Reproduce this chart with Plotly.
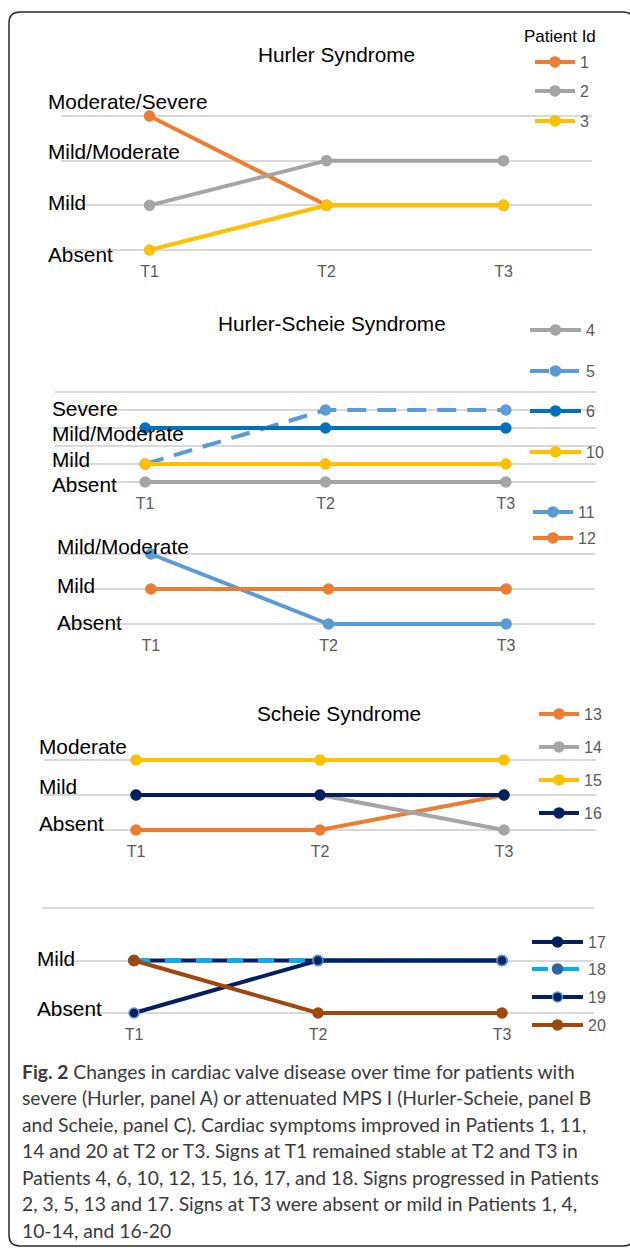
import plotly.graph_objects as go

W, H = 630, 1248

# ---------------- data ----------------
time_points = ["T1", "T2", "T3"]

# Panel A: Hurler syndrome (level index on its own scale)
hurler_levels = ["Absent", "Mild", "Mild/Moderate", "Moderate/Severe"]
hurler_ids = ["1", "2", "3"]
hurler_values = [[3, 1, 1], [1, 2, 2], [0, 1, 1]]

# Panel B (upper): Hurler-Scheie
hs1_levels = ["Absent", "Mild", "", "Mild/Moderate", "Severe", ""]
hs1_ids = ["4", "5", "6", "10"]
hs1_values = [[0, 0, 0], [1, 4, 4], [3, 3, 3], [1, 1, 1]]

# Panel B (lower): Hurler-Scheie
hs2_levels = ["Absent", "Mild", "Mild/Moderate"]
hs2_ids = ["11", "12"]
hs2_values = [[2, 0, 0], [1, 1, 1]]

# Panel C (upper): Scheie
sc1_levels = ["Absent", "Mild", "Moderate"]
sc1_ids = ["13", "14", "15", "16"]
sc1_values = [[0, 0, 1], [1, 1, 0], [2, 2, 2], [1, 1, 1]]

# Panel C (lower): Scheie
sc2_levels = ["Absent", "Mild", ""]
sc2_ids = ["17", "18", "19", "20"]
sc2_values = [[1, 1, 1], [1, 1, 1], [0, 1, 1], [1, 0, 0]]

panel_titles = ["Hurler Syndrome", "Hurler-Scheie Syndrome", "", "Scheie Syndrome", ""]
legend_title = "Patient Id"

caption_lines = [
    "<b>Fig. 2</b> Changes in cardiac valve disease over time for patients with",
    "severe (Hurler, panel A) or attenuated MPS I (Hurler-Scheie, panel B",
    "and Scheie, panel C). Cardiac symptoms improved in Patients 1, 11,",
    "14 and 20 at T2 or T3. Signs at T1 remained stable at T2 and T3 in",
    "Patients 4, 6, 10, 12, 15, 16, 17, and 18. Signs progressed in Patients",
    "2, 3, 5, 13 and 17. Signs at T3 were absent or mild in Patients 1, 4,",
    "10-14, and 16-20",
]

# ---------------- styling / layout ----------------
ORANGE, GREY, GOLD = "#ED7D31", "#A5A5A5", "#FFC000"
LBLUE, DBLUE, NAVY, BROWN, CYAN = "#5B9BD5", "#0070C0", "#002060", "#9E480E", "#00B0F0"
FONT = "Liberation Sans, Arial, sans-serif"

def px_x(x):
    return x / W

def px_y(y):
    return 1 - y / H

panels = [
    dict(xl=61, xr=592, yt=116, yb=250, levels=hurler_levels, ids=hurler_ids, vals=hurler_values,
         styles=[dict(c=ORANGE), dict(c=GREY), dict(c=GOLD)],
         label_x=46, label_shift=[-4, 3, 9, 15],
         legend_y=[62, 91, 121], legend_x=535, legend_w=40),
    dict(xl=55, xr=596, yt=392, yb=482, levels=hs1_levels, ids=hs1_ids, vals=hs1_values,
         styles=[dict(c=GREY), dict(c=LBLUE, dash="19px,11px"), dict(c=DBLUE), dict(c=GOLD)],
         label_x=50, label_shift=[-2, 5, 0, -5, 2, 0],
         legend_y=[330, 371, 411, 452], legend_x=530, legend_w=51),
    dict(xl=62, xr=595, yt=554, yb=624, levels=hs2_levels, ids=hs2_ids, vals=hs2_values,
         styles=[dict(c=LBLUE), dict(c=ORANGE)],
         label_x=55, label_shift=[2, 4, 8],
         legend_y=[512, 538], legend_x=533, legend_w=40),
    dict(xl=44, xr=596, yt=760, yb=830, levels=sc1_levels, ids=sc1_ids, vals=sc1_values,
         styles=[dict(c=ORANGE), dict(c=GREY), dict(c=GOLD), dict(c=NAVY)],
         label_x=37, label_shift=[7, 9, 14],
         legend_y=[714, 747, 780, 813], legend_x=539, legend_w=40),
    dict(xl=42, xr=594, yt=908, yb=1013, levels=sc2_levels, ids=sc2_ids, vals=sc2_values,
         styles=[dict(c=NAVY), dict(c=CYAN, dash="16px,15px", mc="#2A659E"),
                 dict(c=NAVY, mline=LBLUE), dict(c=BROWN)],
         label_x=35, label_shift=[5, 2, 0],
         legend_y=[942, 969, 997, 1025], legend_x=532, legend_w=51),
]
title_pos = [(336, 55), (332, 324), None, (339, 713), None]
PAD = 6  # px of extra room above/below the outer gridlines so lines are not clipped

fig = go.Figure()
annotations = []
layout_extra = {}
legend_count = 0

for p_i, p in enumerate(panels):
    n = p_i + 1
    xa = "x" if n == 1 else f"x{n}"
    ya = "y" if n == 1 else f"y{n}"
    xkey = "xaxis" if n == 1 else f"xaxis{n}"
    ykey = "yaxis" if n == 1 else f"yaxis{n}"
    ymax = len(p["levels"]) - 1
    unit = (p["yb"] - p["yt"]) / ymax
    pad_v = PAD / unit
    layout_extra[xkey] = dict(
        domain=[px_x(p["xl"]), px_x(p["xr"])], anchor=ya,
        range=[-0.5, 2.5], tickmode="array", tickvals=[0, 1, 2], ticktext=time_points,
        showgrid=False, zeroline=False, showline=False,
        ticks="outside", ticklen=1, tickcolor="rgba(0,0,0,0)",
        tickfont=dict(family=FONT, size=16, color="#595959"),
        fixedrange=True,
    )
    layout_extra[ykey] = dict(
        domain=[px_y(p["yb"] + PAD), px_y(p["yt"] - PAD)], anchor=xa,
        range=[-pad_v, ymax + pad_v], dtick=1, tick0=0,
        showgrid=True, gridcolor="#D9D9D9", gridwidth=1.5,
        zeroline=False, showline=False, showticklabels=False, ticks="",
        fixedrange=True,
    )
    for t_i, (pid, vals) in enumerate(zip(p["ids"], p["vals"])):
        st = p["styles"][t_i]
        legend_count += 1
        lkey = "legend" if legend_count == 1 else f"legend{legend_count}"
        fig.add_trace(go.Scatter(
            x=[0, 1, 2], y=vals, name=pid, mode="lines+markers",
            xaxis=xa, yaxis=ya, cliponaxis=False,
            line=dict(color=st["c"], width=4, dash=st.get("dash", "solid")),
            marker=dict(size=10, color=st.get("mc", st["c"]),
                        line=dict(color=st.get("mline", st.get("mc", st["c"])), width=1.5)),
            legend=lkey, showlegend=True,
        ))
        layout_extra[lkey] = dict(
            x=px_x(p["legend_x"] - 5), y=px_y(p["legend_y"][t_i]),
            xanchor="left", yanchor="middle", bgcolor="rgba(0,0,0,0)",
            borderwidth=0, itemwidth=p["legend_w"],
            font=dict(family=FONT, size=16, color="#595959"),
        )
    # level labels
    for lv_i, lv in enumerate(p["levels"]):
        if not lv:
            continue
        annotations.append(dict(
            text=lv, xref="paper", x=px_x(p["label_x"]), xanchor="left",
            yref=ya, y=lv_i, yanchor="middle", yshift=p["label_shift"][lv_i],
            showarrow=False, font=dict(family=FONT, size=20.8, color="#000000"),
        ))
    if title_pos[p_i] is not None:
        tx, ty = title_pos[p_i]
        annotations.append(dict(
            text=panel_titles[p_i], xref="paper", yref="paper", x=px_x(tx), y=px_y(ty),
            xanchor="center", yanchor="middle", showarrow=False,
            font=dict(family=FONT, size=20.8, color="#000000"),
        ))

annotations.append(dict(
    text=legend_title, xref="paper", yref="paper", x=px_x(560), y=px_y(36),
    xanchor="center", yanchor="middle", showarrow=False,
    font=dict(family=FONT, size=17, color="#000000"),
))

cap_y0, cap_dy = 1071, 26.5
for i, line in enumerate(caption_lines):
    annotations.append(dict(
        text=line, xref="paper", yref="paper", x=px_x(20), y=px_y(cap_y0 + i * cap_dy),
        xanchor="left", yanchor="middle", showarrow=False,
        font=dict(family="Lato", size=19.3, color="#3A3A3A"),
    ))

# outer rounded frame
x0, y0, x1, y1, r = 9, 12, 634, 1246, 11
frame_path = (
    f"M {px_x(x0 + r)} {px_y(y0)} L {px_x(x1 - r)} {px_y(y0)} "
    f"Q {px_x(x1)} {px_y(y0)} {px_x(x1)} {px_y(y0 + r)} "
    f"L {px_x(x1)} {px_y(y1 - r)} Q {px_x(x1)} {px_y(y1)} {px_x(x1 - r)} {px_y(y1)} "
    f"L {px_x(x0 + r)} {px_y(y1)} Q {px_x(x0)} {px_y(y1)} {px_x(x0)} {px_y(y1 - r)} "
    f"L {px_x(x0)} {px_y(y0 + r)} Q {px_x(x0)} {px_y(y0)} {px_x(x0 + r)} {px_y(y0)} Z"
)

fig.update_layout(
    width=W, height=H, margin=dict(l=0, r=0, t=0, b=0),
    paper_bgcolor="white", plot_bgcolor="rgba(0,0,0,0)",
    annotations=annotations,
    shapes=[dict(type="path", xref="paper", yref="paper", path=frame_path,
                 line=dict(color="#2B2B2B", width=1.5), layer="below")],
    **layout_extra,
)

fig.write_html("out.html", config={"displayModeBar": False},
               post_script="document.body.style.margin='0';")
